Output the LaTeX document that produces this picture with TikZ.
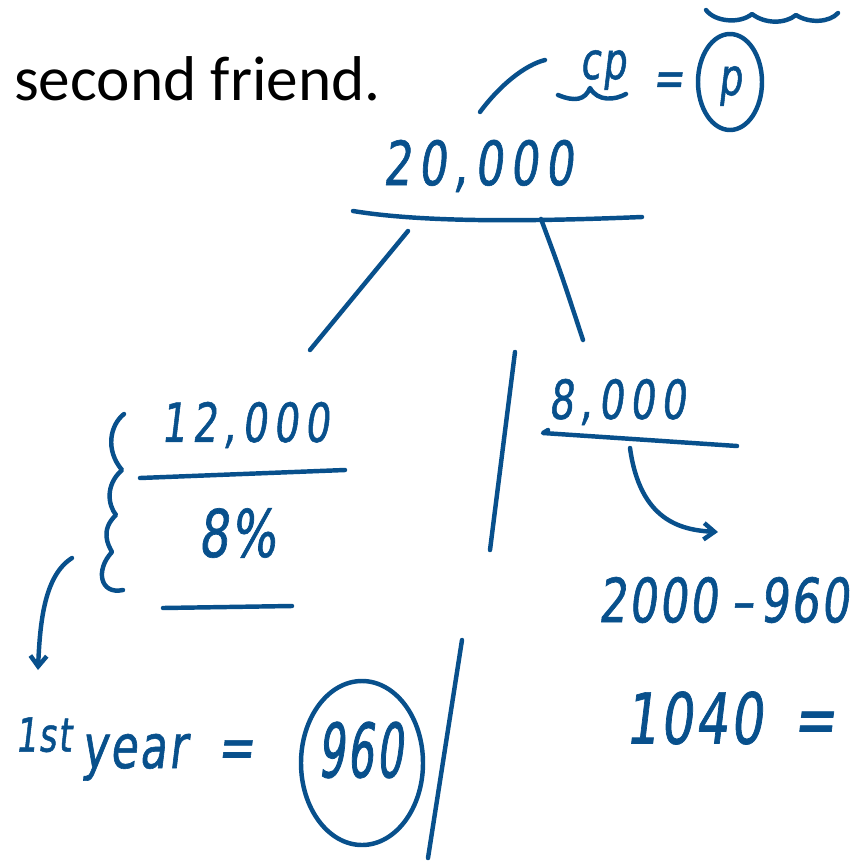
\documentclass[tikz,border=0pt]{standalone}
\usepackage{fontspec}
\setmainfont{Carlito}
\newfontfamily\hand[FakeSlant=0.12,FakeStretch=0.72,FakeBold=1,LetterSpace=12]{DejaVu Sans}
\newfontfamily\handt[FakeSlant=0.12,FakeStretch=0.72,FakeBold=1,LetterSpace=4]{DejaVu Sans}
\newfontfamily\handn[FakeSlant=0.12,FakeStretch=0.55,FakeBold=1,LetterSpace=4]{DejaVu Sans}
\usetikzlibrary{arrows.meta,calc}
\definecolor{ink}{RGB}{8,80,140}

\begin{document}
\begin{tikzpicture}[
  x=0.03cm, y=-0.03cm,
  >={Straight Barb[length=9pt,width=14pt]},
  pen/.style={draw=ink, line width=3.8pt, line cap=round, line join=round},
  hw/.style={text=ink, inner sep=0pt, font=\hand\fontsize{52}{56}\selectfont},
  hwt/.style={hw, font=\handt\fontsize{#1}{#1}\selectfont}
]
\useasboundingbox[fill=white] (0,0) rectangle (859,863);

% heading
\node[anchor=base west, inner sep=0pt, font=\fontsize{54}{58}\selectfont] (title) at (14,100) {second friend.};

% top: cost price
\draw[pen] (480,112) .. controls (500,85) and (525,65) .. (545,60);
\node[hwt=44] (cp) at (603,70) {cp};
\draw[pen] (558,95) .. controls (575,102) and (585,100) .. (590,88)
  .. controls (598,102) and (615,100) .. (626,94);
\node[hwt=44] (eq0) at (668,84) {=};
\node[hwt=44] (p) at (730,86) {p};
\draw[pen] (730,82) ellipse [x radius=32, y radius=48];
\draw[pen] (706,10) .. controls (715,22) and (740,24) .. (752,14)
  .. controls (765,24) and (785,24) .. (796,15)
  .. controls (810,24) and (830,22) .. (838,13);

% row 1
\node[hw] (total) at (478,166) {20,000};
\draw[pen] (353,211) .. controls (420,222) and (520,222) .. (642,217);
\coordinate (bl) at (408,231);
\coordinate (br) at (541,219);
\coordinate (a) at (310,350);
\coordinate (b) at (583,340);
\draw[pen] (bl) -- (a);
\draw[pen] (br) .. controls (560,270) .. (b);

% row 2
\node[hw, font=\hand\fontsize{46}{50}\selectfont] (left) at (245,425) {12,000};
\draw[pen] (140,478) -- (345,470);
\node[hwt=56] (rate) at (237,533) {8\%};
\draw[pen] (163,608) -- (292,606);
\node[hw, font=\hand\fontsize{46}{50}\selectfont] (right) at (617,402) {8,000};
\draw[pen] (548,430) -- (543,433) -- (737,446);

% brace
\draw[pen] (124,414) .. controls (110,425) and (105,450) .. (122,470)
  .. controls (105,485) and (108,505) .. (116,515)
  .. controls (100,530) and (108,545) .. (112,552)
  .. controls (95,570) and (100,595) .. (123,590);
\draw[pen, ->] (72,558) .. controls (45,575) and (40,620) .. (38,670);

% dividers
\draw[pen] (515,352) -- (490,550);
\draw[pen] (462,640) -- (428,858);

% right side
\draw[pen, ->] (630,448) .. controls (640,520) and (680,530) .. (718,532);
\node[hwt=52, anchor=west] (diff) at (598,600) {2000\hspace{12pt}\textendash\hspace{6pt}960};
\node[hwt=60, anchor=west] (res) at (625,718) {1040\hspace{26pt}=};

% bottom left
\node[hwt=52, anchor=base west] (year) at (15,768)
  {\raisebox{14pt}{\fontsize{40}{44}\selectfont 1st}\,year\hspace{26pt}=};
\node[hw, font=\handn\fontsize{64}{68}\selectfont] (int) at (360,750) {960};
\draw[pen] (362,763) ellipse [x radius=61, y radius=82];
\end{tikzpicture}
\end{document}
